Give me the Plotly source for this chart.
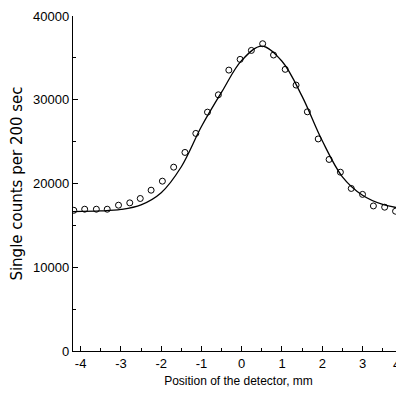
import plotly.graph_objects as go

# Measured points (position mm, counts per 200 s)
pos_mm = [-4.17, -3.90, -3.61, -3.34, -3.06, -2.78, -2.52, -2.25, -1.97, -1.69,
          -1.41, -1.14, -0.85, -0.58, -0.32, -0.04, 0.24, 0.52, 0.79, 1.08,
          1.35, 1.63, 1.90, 2.17, 2.45, 2.72, 3.00, 3.27, 3.55, 3.82]
counts = [16800, 16930, 16930, 16930, 17410, 17690, 18210, 19200, 20280, 21950,
          23710, 25980, 28520, 30590, 33540, 34820, 35890, 36690, 35340, 33630,
          31750, 28560, 25320, 22870, 21350, 19410, 18700, 17320, 17170, 16690]

# Fitted curve
fit_x = [-4.19, -3.5, -3.0, -2.5, -2.0, -1.5, -1.0, -0.5, 0.0, 0.5,
         1.0, 1.5, 2.0, 2.5, 3.0, 3.5, 4.0]
fit_y = [16650, 16720, 16900, 17450, 18900, 22000, 26800, 30900, 34700, 36400,
         34600, 30400, 25100, 20800, 18600, 17500, 17000]

x_ticks = [-4, -3, -2, -1, 0, 1, 2, 3, 4]
y_ticks = [0, 10000, 20000, 30000, 40000]

fig = go.Figure()
fig.add_trace(go.Scatter(x=fit_x, y=fit_y, mode="lines",
                         line=dict(color="black", width=1.3, shape="spline"),
                         showlegend=False))
fig.add_trace(go.Scatter(x=pos_mm, y=counts, mode="markers",
                         marker=dict(symbol="circle-open", size=6,
                                     color="black", line=dict(width=1)),
                         showlegend=False))

# last tick label sits at the page edge; keep it just inside
fig.add_annotation(x=x_ticks[-1], xref="x", y=0, yref="paper", yanchor="top",
                   xanchor="right", xshift=-1,
                   yshift=-4, text=str(x_ticks[-1]), showarrow=False,
                   font=dict(family="Liberation Sans, Arial", size=13, color="black"))

fig.update_layout(
    width=396, height=397,
    margin=dict(l=65, r=0, t=8, b=54),
    paper_bgcolor="white", plot_bgcolor="white",
    font=dict(family="Liberation Sans, Arial", color="black", size=13),
    xaxis=dict(range=[-4.19, 4.03], tickvals=x_ticks,
               ticktext=[str(v) for v in x_ticks],
               showgrid=False, zeroline=False,
               showline=True, linecolor="black", linewidth=1.3,
               ticks="inside", ticklen=5, tickcolor="black",
               minor=dict(ticks="inside", ticklen=3, dtick=0.5, tickcolor="black"),
               title=dict(text="Position of the detector, mm",
                          font=dict(size=12), standoff=6)),
    yaxis=dict(range=[0, 40000], tickvals=y_ticks,
               ticktext=[str(v) for v in y_ticks],
               showgrid=False, zeroline=False,
               showline=True, linecolor="black", linewidth=1.3,
               ticks="inside", ticklen=5, tickcolor="black",
               minor=dict(ticks="inside", ticklen=3, dtick=5000, tickcolor="black"),
               title=dict(text="Single counts per 200 sec",
                          font=dict(family="DejaVu Sans", size=15), standoff=16)),
)

fig.write_html("out.html")
